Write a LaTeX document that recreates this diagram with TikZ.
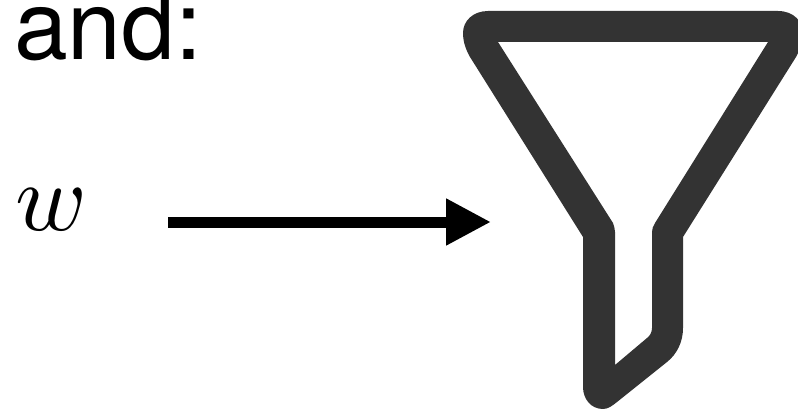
\documentclass[tikz,border=0pt]{standalone}
\usepackage{fontspec}
\setmainfont{TeX Gyre Heros}
\usepackage{amsmath}
\usetikzlibrary{arrows.meta}
\newcommand{\picScale}[0]{0.0352778}
\begin{document}
\begin{tikzpicture}[x=\picScale cm, y=-\picScale cm]
  \tikzset{every label node/.style={inner sep=0pt,anchor=base west}}
  \useasboundingbox (0,0) rectangle (798,409);
  \node[every label node, font=\fontsize{97}{97}\selectfont] (and) at (14,59) {and:};
  \node[every label node, scale=9.7] (w) at (14,230) {$w$};
  \coordinate (tail) at (168,222);
  \coordinate (tip) at (491,222);
  \draw[line width=11bp, -{Triangle[length=45bp, width=44bp]}] (tail) -- (tip);
  % funnel outline
  \fill[color=black!80, even odd rule]
    (488,11) -- (778,11)
    .. controls (794,11) and (803,22) .. (803,33)
    .. controls (803,42) and (800,50) .. (796,57)
    -- (683,237) -- (683,328)
    .. controls (683,342) and (677,354) .. (667,362)
    -- (617,402)
    .. controls (612,406) and (608,409) .. (603,409)
    .. controls (591,409) and (583,399) .. (583,387)
    -- (583,237) -- (470,57)
    .. controls (466,50) and (463,42) .. (463,33)
    .. controls (463,21) and (473,11) .. (488,11) -- cycle
    (498,42) -- (768,42) -- (655,223)
    .. controls (653,226) and (652,229) .. (652,232)
    -- (652,328)
    .. controls (652,332) and (650,336) .. (647,338)
    -- (615,365) -- (615,232)
    .. controls (615,229) and (614,226) .. (613,223) -- cycle;
\end{tikzpicture}
\end{document}
